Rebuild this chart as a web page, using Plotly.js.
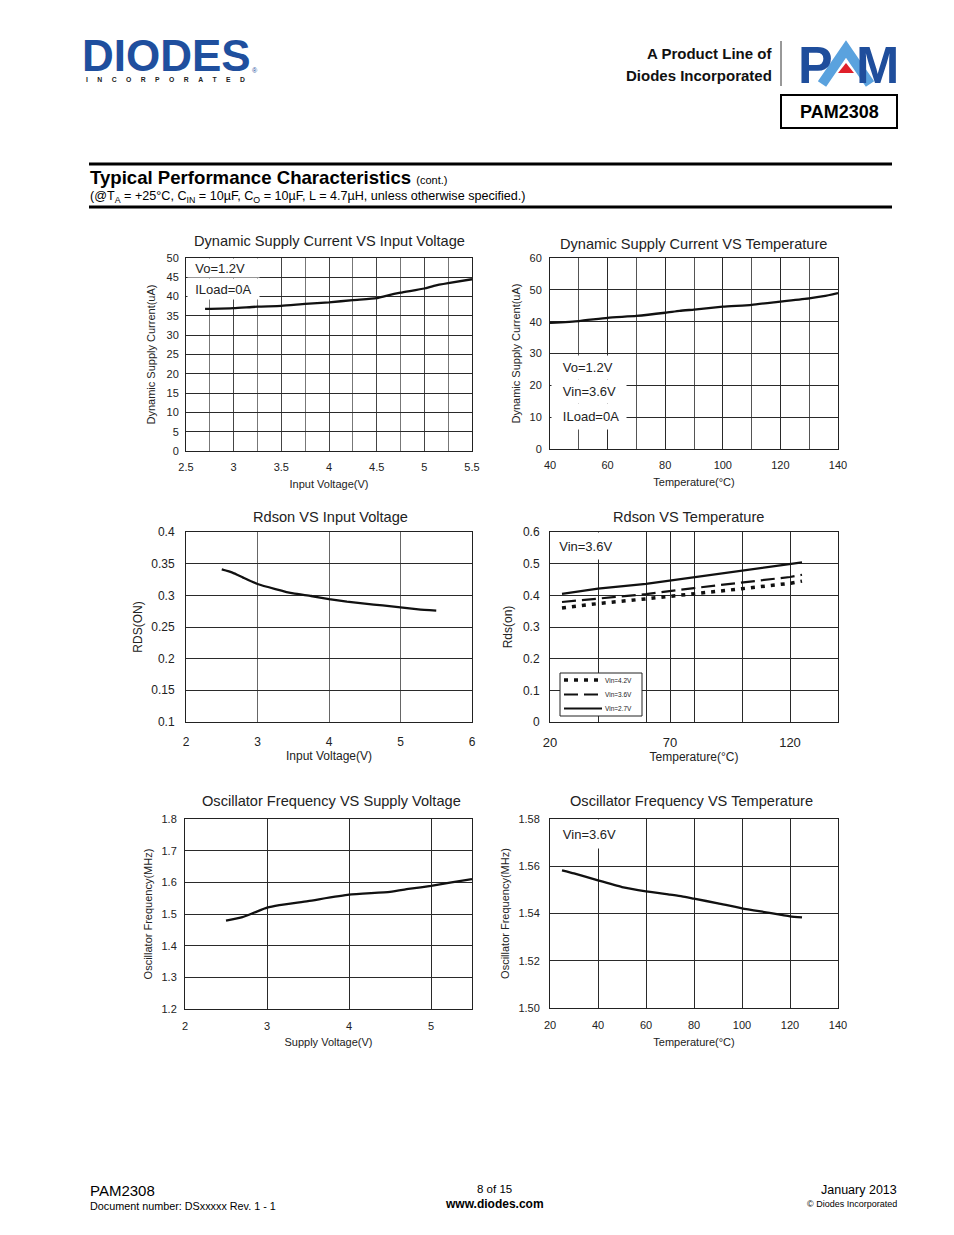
<!DOCTYPE html>
<html>
<head>
<meta charset="utf-8">
<script src="https://cdn.plot.ly/plotly-3.0.1.min.js"></script>
<style>
html,body{margin:0;padding:0;background:#fff;}
#chart{width:954px;height:1235px;}
</style>
</head>
<body>
<div id="chart"></div>
<script>
// ---------------- DATA ----------------
// Chart 1: Dynamic Supply Current VS Input Voltage
const vinDyn  = [2.7, 3.0, 3.25, 3.5, 3.75, 4.0, 4.25, 4.5, 4.6, 4.75, 5.0, 5.1, 5.25, 5.5];
const idqVin  = [36.8, 37.0, 37.4, 37.6, 38.1, 38.5, 39.1, 39.6, 40.2, 41.0, 42.1, 42.8, 43.5, 44.5];

// Chart 2: Dynamic Supply Current VS Temperature
const tempDyn = [40, 50, 60, 70, 80, 85, 90, 100, 110, 120, 130, 135, 140];
const idqTemp = [39.6, 40.2, 41.2, 41.8, 42.8, 43.4, 43.8, 44.7, 45.3, 46.3, 47.3, 48.0, 49.0];

// Chart 3: Rdson VS Input Voltage
const vinRds  = [2.5, 2.65, 2.8, 3.0, 3.25, 3.5, 3.75, 4.0, 4.25, 4.5, 4.75, 5.0, 5.25, 5.5];
const rdsVin  = [0.341, 0.336, 0.328, 0.318, 0.310, 0.303, 0.299, 0.294, 0.290, 0.287, 0.284, 0.281, 0.278, 0.276];

// Chart 4: Rdson VS Temperature
const tempRds = [25, 40, 60, 80, 100, 120, 125];
const rds42   = [0.360, 0.374, 0.389, 0.404, 0.421, 0.438, 0.445];
const rds36   = [0.379, 0.389, 0.404, 0.423, 0.440, 0.458, 0.465];
const rds27   = [0.405, 0.421, 0.436, 0.457, 0.478, 0.499, 0.504];
const rdsSeriesNames = ['Vin=4.2V', 'Vin=3.6V', 'Vin=2.7V'];
const rdsTempTicks = [20, 70, 120];
const rdsTempGrid  = [40, 60, 80, 100];

// Chart 5: Oscillator Frequency VS Supply Voltage
const vinOsc  = [2.5, 2.7, 2.85, 3.0, 3.15, 3.5, 4.0, 4.5, 4.75, 5.0, 5.25, 5.5];
const oscVin  = [1.479, 1.490, 1.505, 1.520, 1.528, 1.541, 1.561, 1.570, 1.580, 1.589, 1.600, 1.610];

// Chart 6: Oscillator Frequency VS Temperature
const tempOsc = [25, 30, 40, 50, 60, 70, 75, 80, 90, 100, 110, 120, 125];
const oscTemp = [1.5583, 1.5570, 1.5540, 1.5512, 1.5494, 1.5480, 1.5473, 1.5463, 1.5443, 1.5422, 1.5405, 1.5388, 1.5384];

// ---------------- LAYOUT HELPERS ----------------
const W = 954, H = 1235;
const FONT = '"Liberation Sans", Arial, Helvetica, sans-serif';
const INK = '#222';
const xdom = (a, b) => [a / W, b / W];
const ydom = (top, bot) => [1 - bot / H, 1 - top / H];
const px = v => v / W;
const py = v => 1 - v / H;

function axis(o) {
  const base = {
    showline: true, mirror: true, linecolor: '#222', linewidth: 1,
    ticks: '', showgrid: true, gridcolor: '#2a2a2a', gridwidth: 1, zeroline: false,
    tickfont: {family: FONT, size: 11, color: INK},
    fixedrange: true
  };
  return Object.assign(base, o);
}
function ttl(text, size, standoff) {
  return {text: text, font: {family: FONT, size: size, color: INK}, standoff: standoff};
}
function txt(text, x, y, o) {
  o = o || {};
  const font = Object.assign({family: FONT, size: 13, color: INK}, o.font || {});
  const a = Object.assign({xref: 'paper', yref: 'paper', x: px(x), y: py(y), text: text,
    showarrow: false, xanchor: 'center', yanchor: 'middle'}, o);
  a.font = font;
  return a;
}
function box(text, left, top, bottom, width) {
  return txt(text, left, (top + bottom) / 2, {xanchor: 'left', width: width, height: bottom - top,
    align: 'left', bgcolor: '#ffffff', borderpad: 0, font: {size: 13}});
}
function pline(x0, y0, x1, y1, w, c, dash) {
  return {type: 'line', xref: 'paper', yref: 'paper', x0: px(x0), y0: py(y0), x1: px(x1), y1: py(y1),
    line: {color: c || '#000', width: w, dash: dash || 'solid'}};
}

const lineStyle = {color: '#111', width: 2.3, shape: 'spline', smoothing: 0.5};
const rdsStyles = [
  {color: '#111', width: 3.5, dash: '4px,6px'},
  {color: '#111', width: 2.2, dash: '14px,6px'},
  {color: '#111', width: 2.3}
];

// ---------------- TRACES ----------------
const traces = [
  {x: vinDyn, y: idqVin, xaxis: 'x', yaxis: 'y', mode: 'lines', line: lineStyle, showlegend: false, hoverinfo: 'skip'},
  {x: tempDyn, y: idqTemp, xaxis: 'x2', yaxis: 'y2', mode: 'lines', line: lineStyle, showlegend: false, hoverinfo: 'skip'},
  {x: vinRds, y: rdsVin, xaxis: 'x3', yaxis: 'y3', mode: 'lines', line: lineStyle, showlegend: false, hoverinfo: 'skip'},
  {x: tempRds, y: rds42, xaxis: 'x4', yaxis: 'y4', mode: 'lines', name: rdsSeriesNames[0], line: rdsStyles[0], showlegend: false, hoverinfo: 'skip'},
  {x: tempRds, y: rds36, xaxis: 'x4', yaxis: 'y4', mode: 'lines', name: rdsSeriesNames[1], line: rdsStyles[1], showlegend: false, hoverinfo: 'skip'},
  {x: tempRds, y: rds27, xaxis: 'x4', yaxis: 'y4', mode: 'lines', name: rdsSeriesNames[2], line: rdsStyles[2], showlegend: false, hoverinfo: 'skip'},
  {x: vinOsc, y: oscVin, xaxis: 'x5', yaxis: 'y5', mode: 'lines', line: lineStyle, showlegend: false, hoverinfo: 'skip'},
  {x: tempOsc, y: oscTemp, xaxis: 'x6', yaxis: 'y6', mode: 'lines', line: lineStyle, showlegend: false, hoverinfo: 'skip'}
];

// ---------------- compact legend for the Rdson VS Temperature panel ----------------
const legendShapes = [
  {type: 'rect', xref: 'paper', yref: 'paper', x0: px(560), x1: px(642), y0: py(716), y1: py(673),
    line: {color: '#222', width: 1}, fillcolor: '#ffffff', layer: 'above'}
];
const legendAnn = [];
const legRows = [680, 694.5, 708.5];
rdsSeriesNames.forEach(function (nm, i) {
  const st = rdsStyles[i];
  legendShapes.push(pline(564, legRows[i], 602, legRows[i], i === 0 ? 3.5 : 2.2, '#111', st.dash));
  legendAnn.push(txt(nm, 603, legRows[i], {xanchor: 'left', font: {size: 6.5, color: '#222'}}));
});

// ---------------- LAYOUT ----------------
const layout = {
  width: W, height: H,
  margin: {l: 0, r: 0, t: 0, b: 0},
  paper_bgcolor: '#ffffff', plot_bgcolor: '#ffffff',
  font: {family: FONT, color: INK},
  showlegend: false,

  xaxis: axis({domain: xdom(186, 472), anchor: 'y', range: [2.5, 5.5], tick0: 2.5, dtick: 0.5,
    ticklabelstandoff: 6, gridcolor: '#444',
    minor: {tick0: 2.5, dtick: 0.25, showgrid: true, gridcolor: '#777', gridwidth: 1},
    title: ttl('Input Voltage(V)', 11, 8)}),
  yaxis: axis({domain: ydom(258, 451), anchor: 'x', range: [0, 50.001], tick0: 0, dtick: 5,
    ticklabelstandoff: 4, title: ttl('Dynamic Supply Current(uA)', 11, 8)}),

  xaxis2: axis({domain: xdom(550, 838), anchor: 'y2', range: [40, 140], tick0: 40, dtick: 20,
    ticklabelstandoff: 6,
    minor: {tick0: 40, dtick: 10, showgrid: true, gridcolor: '#555', gridwidth: 1},
    title: ttl('Temperature(°C)', 11, 8)}),
  yaxis2: axis({domain: ydom(258, 449), anchor: 'x2', range: [0, 60.001], tick0: 0, dtick: 10,
    ticklabelstandoff: 5, title: ttl('Dynamic Supply Current(uA)', 11, 6)}),

  xaxis3: axis({domain: xdom(186, 472), anchor: 'y3', range: [2, 6], tick0: 2, dtick: 1,
    ticklabelstandoff: 9, gridcolor: '#666', tickfont: {family: FONT, size: 12, color: INK},
    title: ttl('Input Voltage(V)', 12, 3)}),
  yaxis3: axis({domain: ydom(532, 722), anchor: 'x3', range: [0.0999, 0.4001], tick0: 0.1, dtick: 0.05,
    ticklabelstandoff: 8, tickfont: {family: FONT, size: 12, color: INK},
    title: ttl('RDS(ON)', 12, 6)}),

  xaxis4: axis({domain: xdom(550, 838), anchor: 'y4', range: [20, 140], tickmode: 'array', tickvals: rdsTempTicks,
    ticklabelstandoff: 8,
    minor: {tickmode: 'array', tickvals: rdsTempGrid, showgrid: true, gridcolor: '#2a2a2a', gridwidth: 1},
    tickfont: {family: FONT, size: 13, color: INK},
    title: ttl('Temperature(°C)', 12, 2)}),
  yaxis4: axis({domain: ydom(532, 722), anchor: 'x4', range: [0, 0.6001], tick0: 0, dtick: 0.1,
    ticklabelstandoff: 7, tickfont: {family: FONT, size: 12, color: INK},
    title: ttl('Rds(on)', 12, 7)}),

  xaxis5: axis({domain: xdom(185, 472), anchor: 'y5', range: [2, 5.5], tick0: 2, dtick: 1,
    ticklabelstandoff: 7, title: ttl('Supply Voltage(V)', 11, 7)}),
  yaxis5: axis({domain: ydom(819, 1009), anchor: 'x5', range: [1.1999, 1.8001], tick0: 1.2, dtick: 0.1, tickformat: '.1f',
    ticklabelstandoff: 5, title: ttl('Oscillator Frequency(MHz)', 11, 6)}),

  xaxis6: axis({domain: xdom(550, 838), anchor: 'y6', range: [20, 140], tick0: 20, dtick: 20,
    ticklabelstandoff: 7, title: ttl('Temperature(°C)', 11, 8)}),
  yaxis6: axis({domain: ydom(819, 1008), anchor: 'x6', range: [1.49999, 1.58001], tick0: 1.5, dtick: 0.02, tickformat: '.2f',
    ticklabelstandoff: 7, title: ttl('Oscillator Frequency(MHz)', 11, 6)}),

  shapes: [
    pline(781, 41, 781, 86, 1, '#333'),
    {type: 'rect', xref: 'paper', yref: 'paper', x0: px(781), x1: px(897), y0: py(128), y1: py(95),
      line: {color: '#000', width: 2}, fillcolor: 'rgba(0,0,0,0)'},
    pline(89, 164, 892, 164, 3),
    pline(89, 207, 892, 207, 3),
    // PAM logo "A" chevron and red triangle
    {type: 'path', xref: 'paper', yref: 'paper', line: {color: '#5AA2DE', width: 10}, fillcolor: 'rgba(0,0,0,0)',
      path: 'M ' + px(822) + ' ' + py(84) + ' L ' + px(846) + ' ' + py(49) + ' L ' + px(870) + ' ' + py(84)},
    {type: 'path', xref: 'paper', yref: 'paper', fillcolor: '#E0202A', line: {width: 0},
      path: 'M ' + px(846) + ' ' + py(63) + ' L ' + px(838) + ' ' + py(73) + ' L ' + px(854) + ' ' + py(73) + ' Z'}
  ].concat(legendShapes),

  annotations: [
    // header
    txt('<b>DIODES</b>', 166, 55.5, {font: {size: 44, color: '#1F4F9E'}}),
    txt('<b>I\u00a0\u00a0\u00a0\u00a0\u00a0N\u00a0\u00a0\u00a0\u00a0\u00a0C\u00a0\u00a0\u00a0\u00a0\u00a0O\u00a0\u00a0\u00a0\u00a0\u00a0R\u00a0\u00a0\u00a0\u00a0\u00a0P\u00a0\u00a0\u00a0\u00a0\u00a0O\u00a0\u00a0\u00a0\u00a0\u00a0R\u00a0\u00a0\u00a0\u00a0\u00a0A\u00a0\u00a0\u00a0\u00a0\u00a0T\u00a0\u00a0\u00a0\u00a0\u00a0E\u00a0\u00a0\u00a0\u00a0\u00a0D</b>',
      84, 80, {xanchor: 'left', font: {size: 6.8, color: '#222'}}),
    txt('®', 255, 71, {font: {size: 7, color: '#1F4F9E'}}),
    txt('<b>A Product Line of</b>', 774, 54, {xanchor: 'right', font: {size: 15, color: '#111'}}),
    txt('<b>Diodes Incorporated</b>', 774, 75, {xanchor: 'right', font: {size: 15, color: '#111'}}),
    txt('<b>P</b>', 815, 65, {font: {size: 52, color: '#1F4E9C'}}),
    txt('<b>M</b>', 877, 65, {font: {size: 52, color: '#1F4E9C'}}),
    txt('<b>PAM2308</b>', 839, 112, {font: {size: 18, color: '#000'}}),
    txt('<b>Typical Performance Characteristics</b> <span style="font-size:11px">(cont.)</span>', 88, 178,
      {xanchor: 'left', font: {size: 18.6, color: '#000'}}),
    txt('(@T<sub>A</sub> = +25°C, C<sub>IN</sub> = 10µF, C<sub>O</sub> = 10µF, L = 4.7µH, unless otherwise specified.)', 88, 197,
      {xanchor: 'left', font: {size: 12.6, color: '#000'}}),

    // chart titles
    txt('Dynamic Supply Current VS Input Voltage', 329, 241, {font: {size: 14.6}}),
    txt('Dynamic Supply Current VS Temperature', 693, 244, {font: {size: 14.6}}),
    txt('Rdson VS Input Voltage', 330, 517, {font: {size: 14.6}}),
    txt('Rdson VS Temperature', 688, 517, {font: {size: 14.6}}),
    txt('Oscillator Frequency VS Supply Voltage', 331, 801, {font: {size: 14.6}}),
    txt('Oscillator Frequency VS Temperature', 691, 801, {font: {size: 14.6}}),

    // in-plot notes
    box('\u00a0\u00a0Vo=1.2V', 187, 259, 277, 71),
    box('\u00a0\u00a0ILoad=0A', 187, 279, 299, 71),
    box('\u00a0\u00a0\u00a0Vo=1.2V', 551, 356, 379, 74),
    box('\u00a0\u00a0\u00a0Vin=3.6V', 551, 380, 403, 74),
    box('\u00a0\u00a0\u00a0ILoad=0A', 551, 404, 429, 74),
    box('\u00a0\u00a0Vin=3.6V', 551, 533, 559, 68),
    box('\u00a0\u00a0\u00a0Vin=3.6V', 551, 820, 848, 72),

    // footer
    txt('PAM2308', 88, 1190, {xanchor: 'left', font: {size: 15, color: '#000'}}),
    txt('Document number: DSxxxxx Rev. 1 - 1', 88, 1206, {xanchor: 'left', font: {size: 10.8, color: '#000'}}),
    txt('8 of 15', 494, 1189, {font: {size: 11.5, color: '#000'}}),
    txt('<b>www.diodes.com</b>', 494, 1204, {font: {size: 12, color: '#000'}}),
    txt('January 2013', 899, 1190, {xanchor: 'right', font: {size: 12.5, color: '#000'}}),
    txt('© Diodes Incorporated', 899, 1204, {xanchor: 'right', font: {size: 9, color: '#000'}})
  ].concat(legendAnn)
};

Plotly.newPlot('chart', traces, layout, {displayModeBar: false, staticPlot: true});
</script>
</body>
</html>
